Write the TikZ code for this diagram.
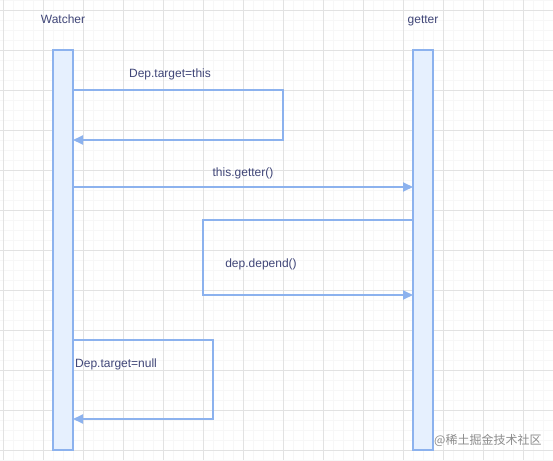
\documentclass[tikz,border=0pt]{standalone}
\usepackage{fontspec}
\setmainfont{Liberation Sans}
\newfontfamily\cjk{Noto Sans CJK SC}
\usetikzlibrary{arrows.meta}
\definecolor{ln}{HTML}{8CB2EE}
\definecolor{lf}{HTML}{E6F0FE}
\definecolor{tx}{HTML}{404678}
\definecolor{majg}{HTML}{E2E2E2}
\definecolor{ming}{HTML}{F7F7F7}
\begin{document}
\begin{tikzpicture}[x=1pt,y=-1pt,
  minorgrid/.style={ming,line width=0.5pt},
  majorgrid/.style={majg,line width=0.8pt},
  life/.style={draw=ln,fill=lf,line width=1.8pt,minimum width=20pt,minimum height=400pt,inner sep=0pt,outer sep=0pt},
  lbl/.style={text=tx,font=\fontsize{12}{14}\selectfont,inner sep=0pt},
  conn/.style={draw=ln,line width=1.8pt,line join=miter,-{Triangle[length=10pt,width=9pt]}}
]
\fill[white] (0,0) rectangle (553,460);
\useasboundingbox (0,0) rectangle (553,460);
\foreach \x in {3,13,...,553} \draw[minorgrid] (\x,0) -- (\x,460);
\foreach \y in {0,10,...,460} \draw[minorgrid] (0,\y) -- (553,\y);
\foreach \x in {3,43,...,553} \draw[majorgrid] (\x,0) -- (\x,460);
\foreach \y in {10,50,...,460} \draw[majorgrid] (0,\y) -- (553,\y);

\node[life] (w) at (63,250) {};
\node[life] (g) at (423,250) {};
\node[lbl,anchor=base] (wl) at (63,23.5) {Watcher};
\node[lbl,anchor=base] (gl) at (423,23.5) {getter};

\coordinate (p1) at (283,90);
\coordinate (p2) at (283,140);
\draw[conn] (w.east |- 0,90) -- (p1) -- (p2) -- (w.east |- 0,140);
\node[lbl] (l1) at (170,74) {Dep.target=this};

\draw[conn] (w.east |- 0,187) -- (g.west |- 0,187);
\node[lbl] (l2) at (243,173) {this.getter()};

\coordinate (q1) at (203,220);
\coordinate (q2) at (203,295);
\draw[conn] (g.west |- 0,220) -- (q1) -- (q2) -- (g.west |- 0,295);
\node[lbl] (l3) at (261,264) {dep.depend()};

\coordinate (r1) at (213,340);
\coordinate (r2) at (213,419);
\draw[conn] (w.east |- 0,340) -- (r1) -- (r2) -- (w.east |- 0,419);
\node[lbl,anchor=west] (l4) at (75,364) {Dep.target=null};

\node[text=black!45,font=\cjk\fontsize{12}{14}\selectfont,anchor=west,inner sep=0pt] (wm) at (434,440) {@稀土掘金技术社区};
\end{tikzpicture}
\end{document}
